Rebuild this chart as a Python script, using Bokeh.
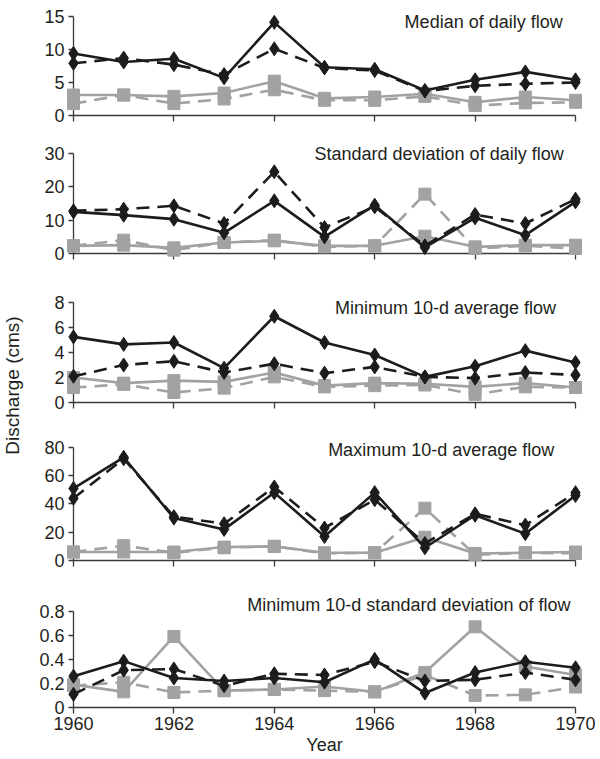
import math
from bokeh.plotting import figure
from bokeh.layouts import row, column
from bokeh.models import FixedTicker, Label, Range1d
from bokeh.embed import file_html
from bokeh.resources import INLINE

# ---------------- data ----------------
years = [1960, 1961, 1962, 1963, 1964, 1965, 1966, 1967, 1968, 1969, 1970]
year_ticks = [1960, 1962, 1964, 1966, 1968, 1970]

# Median of daily flow
med_black_solid = [9.4, 8.1, 8.6, 5.7, 14.1, 7.3, 7.0, 3.8, 5.4, 6.6, 5.4]
med_black_dash = [7.9, 8.7, 7.7, 6.2, 10.1, 7.2, 6.8, 3.7, 4.5, 4.8, 5.0]
med_gray_solid = [3.1, 3.1, 2.9, 3.4, 5.2, 2.6, 2.8, 3.3, 2.0, 2.8, 2.3]
med_gray_dash = [1.8, 3.1, 1.8, 2.5, 3.9, 2.3, 2.3, 2.9, 1.5, 1.9, 2.0]
med_ticks = [0, 5, 10, 15]

# Standard deviation of daily flow
sd_black_solid = [12.5, 11.5, 10.3, 6.2, 15.8, 5.0, 14.5, 1.8, 10.7, 5.5, 15.5]
sd_black_dash = [12.8, 13.3, 14.3, 9.0, 24.5, 7.8, 14.0, 2.3, 11.7, 9.0, 16.3]
sd_gray_solid = [2.3, 2.5, 1.7, 3.3, 3.8, 2.3, 2.3, 5.2, 2.0, 2.5, 2.5]
sd_gray_dash = [2.3, 4.0, 1.0, 3.3, 4.0, 2.0, 2.3, 17.8, 1.5, 2.3, 1.5]
sd_ticks = [0, 10, 20, 30]

# Minimum 10-d average flow
min_black_solid = [5.25, 4.65, 4.8, 2.75, 6.9, 4.8, 3.8, 2.05, 2.9, 4.15, 3.2]
min_black_dash = [2.1, 3.0, 3.3, 2.4, 3.1, 2.35, 2.85, 2.05, 1.95, 2.4, 2.2]
min_gray_solid = [2.0, 1.55, 1.75, 1.65, 2.4, 1.35, 1.55, 1.5, 1.25, 1.55, 1.2]
min_gray_dash = [1.2, 1.45, 0.8, 1.15, 2.05, 1.25, 1.35, 1.4, 0.65, 1.25, 1.2]
min_ticks = [0, 2, 4, 6, 8]

# Maximum 10-d average flow
max_black_solid = [51, 73, 30, 22, 48, 17, 48, 9, 32, 19, 46]
max_black_dash = [44, 72, 31, 26, 52, 23, 43, 12, 33, 25, 48]
max_gray_solid = [6, 6, 6, 9.5, 10, 5.5, 5.5, 16.5, 5, 5.5, 6]
max_gray_dash = [6, 10.5, 5.5, 9, 10, 5, 5.5, 37, 4, 5.5, 5]
max_ticks = [0, 20, 40, 60, 80]

# Minimum 10-d standard deviation of flow
msd_black_solid = [0.26, 0.385, 0.245, 0.22, 0.245, 0.21, 0.40, 0.12, 0.29, 0.38, 0.33]
msd_black_dash = [0.11, 0.31, 0.32, 0.18, 0.28, 0.27, 0.38, 0.22, 0.23, 0.29, 0.23]
msd_gray_solid = [0.19, 0.13, 0.59, 0.14, 0.15, 0.175, 0.13, 0.29, 0.67, 0.34, 0.27]
msd_gray_dash = [0.18, 0.21, 0.125, 0.14, 0.15, 0.14, 0.13, 0.27, 0.10, 0.105, 0.17]
msd_ticks = [0, 0.2, 0.4, 0.6, 0.8]

titles = ["Median of daily flow",
          "Standard deviation of daily flow",
          "Minimum 10-d average flow",
          "Maximum 10-d average flow",
          "Minimum 10-d standard deviation of flow"]
x_title = "Year"
y_title = "Discharge (cms)"

# ---------------- style ----------------
FONT = "Liberation Sans"
BLACK = "#1c1c1c"
GRAY = "#a2a2a4"
AXIS = "#3a3a3a"
TXT = "#231f20"
DASH = "13 8"
LABEL_W = 28
PANEL_W = 572
BL = 45

panels = [
    dict(s=(med_black_solid, med_black_dash, med_gray_solid, med_gray_dash), ticks=med_ticks,
         y_end=16.2, title_y=14.1, fw=510, h=140, bt=8, bb=25),
    dict(s=(sd_black_solid, sd_black_dash, sd_gray_solid, sd_gray_dash), ticks=sd_ticks,
         y_end=33.0, title_y=30.0, fw=509, h=150, bt=3, bb=37),
    dict(s=(min_black_solid, min_black_dash, min_gray_solid, min_gray_dash), ticks=min_ticks,
         y_end=8.64, title_y=7.6, fw=517, h=143, bt=4, bb=31),
    dict(s=(max_black_solid, max_black_dash, max_gray_solid, max_gray_dash), ticks=max_ticks,
         y_end=87.0, title_y=78.0, fw=519, h=155, bt=4, bb=28),
    dict(s=(msd_black_solid, msd_black_dash, msd_gray_solid, msd_gray_dash), ticks=msd_ticks,
         y_end=0.955, title_y=0.85, fw=502, h=169, bt=4, bb=46),
]

figs = []
for i, cfg in enumerate(panels):
    last = i == len(panels) - 1
    br = PANEL_W - BL - cfg["fw"]
    p = figure(width=PANEL_W, height=cfg["h"], output_backend="svg", toolbar_location=None,
               x_range=Range1d(years[0], years[-1]), y_range=Range1d(0, cfg["y_end"]),
               min_border_left=BL, min_border_right=br, min_border_top=cfg["bt"],
               min_border_bottom=cfg["bb"], outline_line_color=None,
               background_fill_color="white", border_fill_color="white")
    p.xgrid.visible = False
    p.ygrid.visible = False

    bs, bd, gs, gd = cfg["s"]
    # gray series first, black on top; overlay level so end markers are not clipped
    p.line(years, gd, line_color=GRAY, line_width=2.6, line_dash=DASH, level="overlay")
    p.scatter(years, gd, marker="square", size=12, fill_color=GRAY, line_color=GRAY, level="overlay")
    p.line(years, gs, line_color=GRAY, line_width=2.6, level="overlay")
    p.scatter(years, gs, marker="square", size=12, fill_color=GRAY, line_color=GRAY, level="overlay")
    p.line(years, bd, line_color=BLACK, line_width=2.6, line_dash=DASH, level="overlay")
    p.scatter(years, bd, marker="diamond", size=14, fill_color=BLACK, line_color=BLACK, level="overlay")
    p.line(years, bs, line_color=BLACK, line_width=2.6, level="overlay")
    p.scatter(years, bs, marker="diamond", size=14, fill_color=BLACK, line_color=BLACK, level="overlay")

    ticks = cfg["ticks"]
    yax = p.yaxis[0]
    yax.ticker = FixedTicker(ticks=ticks)
    yax.bounds = (ticks[0], ticks[-1])
    yax.minor_tick_line_color = None
    yax.major_tick_in = 0
    yax.major_tick_out = 5
    yax.axis_line_color = AXIS
    yax.axis_line_width = 1.3
    yax.major_tick_line_color = AXIS
    yax.major_tick_line_width = 1.3
    yax.major_label_text_font = FONT
    yax.major_label_text_font_size = "18px"
    yax.major_label_text_color = TXT
    yax.major_label_standoff = 4
    yax.major_label_overrides = {t: ("0" if t == 0 else ("%g" % t)) for t in ticks}

    xax = p.xaxis[0]
    xax.ticker = FixedTicker(ticks=year_ticks)
    xax.minor_tick_line_color = None
    xax.major_tick_in = 0
    xax.major_tick_out = 6
    xax.axis_line_color = AXIS
    xax.axis_line_width = 1.3
    xax.major_tick_line_color = AXIS
    xax.major_tick_line_width = 1.3
    xax.major_label_text_font = FONT
    xax.major_label_text_font_size = "18px"
    xax.major_label_text_color = TXT
    xax.major_label_standoff = 3
    if last:
        xax.axis_label = x_title
        xax.axis_label_text_font = FONT
        xax.axis_label_text_font_size = "18px"
        xax.axis_label_text_font_style = "normal"
        xax.axis_label_text_color = TXT
        xax.axis_label_standoff = 2
    else:
        xax.major_label_overrides = {t: "" for t in year_ticks}

    px_per_year = cfg["fw"] / 10.0
    title_x = years[0] + (570 - 73) / px_per_year
    p.add_layout(Label(x=title_x, y=cfg["title_y"], text=titles[i], text_align="right",
                       text_baseline="middle", text_font=FONT, text_font_size="18px",
                       text_color=TXT))
    figs.append(p)

total_h = sum(c["h"] for c in panels)
lab = figure(width=LABEL_W, height=total_h, output_backend="svg", toolbar_location=None,
             x_range=Range1d(0, LABEL_W), y_range=Range1d(0, total_h),
             x_axis_type=None, y_axis_type=None, min_border=0,
             outline_line_color=None)
lab.xgrid.visible = False
lab.ygrid.visible = False
lab.add_layout(Label(x=12, y=total_h - 385, text=y_title, angle=math.pi / 2,
                     text_align="center", text_baseline="middle", text_font=FONT,
                     text_font_size="19px", text_color=TXT))

layout = row(lab, column(*figs, spacing=0), spacing=0)

open("out.html", "w").write(file_html(layout, INLINE))
